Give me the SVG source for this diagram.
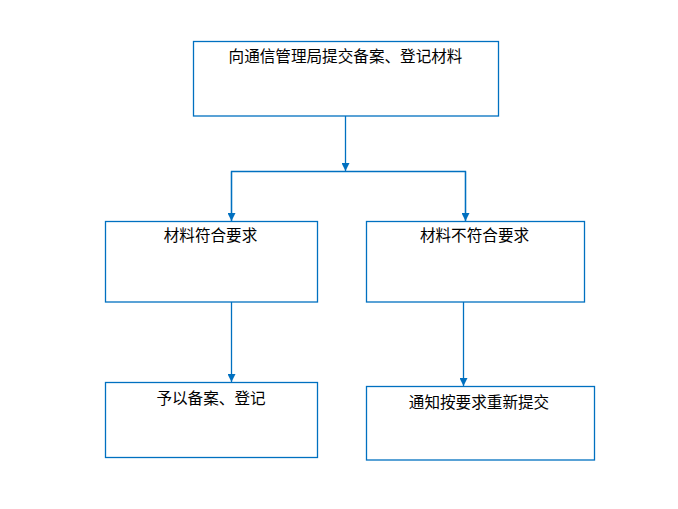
<svg xmlns="http://www.w3.org/2000/svg" width="678" height="509" viewBox="0 0 678 509">
<style>
.box{fill:#fff;stroke:#0070C0;stroke-width:1.3}
.lbl{font-family:"Noto Sans CJK SC","Noto Sans CJK TC",sans-serif;font-size:15.6px;fill:#000;text-anchor:middle}
.con{fill:none;stroke:#0070C0;stroke-width:1.3}
</style>
<defs>
<marker id="arr" viewBox="0 0 10 10" refX="10" refY="5" markerWidth="8" markerHeight="8" markerUnits="userSpaceOnUse" orient="auto">
<path d="M0,0 L10,5 L0,10 Z" fill="#0070C0"/>
</marker>
</defs>
<rect width="678" height="509" fill="#fff"/>
<g id="connectors">
<line class="con" x1="345.5" y1="116" x2="345.5" y2="171" marker-end="url(#arr)"/>
<polyline class="con" points="231.5,221 231.5,171.5 465.5,171.5 465.5,221"/>
<line class="con" x1="231.5" y1="171.5" x2="231.5" y2="221" marker-end="url(#arr)"/>
<line class="con" x1="465.5" y1="171.5" x2="465.5" y2="221" marker-end="url(#arr)"/>
<line class="con" x1="231.5" y1="302" x2="231.5" y2="382" marker-end="url(#arr)"/>
<line class="con" x1="463.5" y1="302" x2="463.5" y2="386" marker-end="url(#arr)"/>
</g>
<g id="n1">
<rect class="box" x="193.5" y="41.5" width="305" height="74.5"/>
<text class="lbl" x="345.5" y="62">向通信管理局提交备案、登记材料</text>
</g>
<g id="n2">
<rect class="box" x="105.5" y="221.5" width="212" height="80.5"/>
<text class="lbl" x="210.5" y="241">材料符合要求</text>
</g>
<g id="n3">
<rect class="box" x="366.5" y="221.5" width="218" height="80.5"/>
<text class="lbl" x="474.5" y="241">材料不符合要求</text>
</g>
<g id="n4">
<rect class="box" x="105.5" y="382.5" width="212" height="75"/>
<text class="lbl" x="211" y="404">予以备案、登记</text>
</g>
<g id="n5">
<rect class="box" x="366.5" y="386.5" width="228" height="73.5"/>
<text class="lbl" x="479" y="408">通知按要求重新提交</text>
</g>
</svg>
